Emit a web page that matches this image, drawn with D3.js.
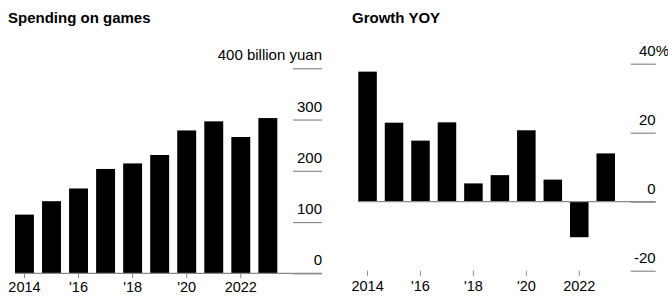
<!DOCTYPE html>
<html>
<head>
<meta charset="utf-8">
<script src="https://cdn.jsdelivr.net/npm/d3@7"></script>
<style>
  html, body { margin: 0; padding: 0; background: #fff; }
  svg { display: block; }
  text { font-family: "Liberation Sans", Arial, Helvetica, sans-serif; fill: #000; }
</style>
</head>
<body>
<svg id="chart" width="668" height="297"></svg>
<script>
// ---- Data ----
const years = [2014, 2015, 2016, 2017, 2018, 2019, 2020, 2021, 2022, 2023];
const spending = [114.5, 140.7, 165.5, 203.6, 214.4, 230.9, 278.7, 296.5, 265.9, 302.9]; // billion yuan
const growth = [37.7, 22.9, 17.7, 23.0, 5.3, 7.7, 20.7, 6.4, -10.3, 14.0]; // % YOY
const xTickYears = [2014, 2016, 2018, 2020, 2022];
const xTickLabels = ["2014", "'16", "'18", "'20", "2022"];
const leftTicks = [0, 100, 200, 300, 400];
const leftTickLabels = ["0", "100", "200", "300", "400 billion yuan"];
const rightTicks = [-20, 0, 20, 40];
const rightTickLabels = ["-20", "0", "20", "40"];
const titles = ["Spending on games", "Growth YOY"];

const svg = d3.select("#chart");
const grid = "#8a8a8a";
const labelMap = (ticks, labels) => v => labels[ticks.indexOf(v)];

// ---- Titles ----
svg.append("text").attr("x", 8).attr("y", 22.5)
  .attr("font-size", 15).attr("font-weight", "bold").text(titles[0]);
svg.append("text").attr("x", 352).attr("y", 22.5)
  .attr("font-size", 15).attr("font-weight", "bold").text(titles[1]);

// ---- Left panel ----
const xL = d3.scaleBand().domain(years).range([15, 277.3]).paddingInner(0.3).paddingOuter(0);
const yL = d3.scaleLinear().domain([0, 400]).range([273.3, 68.3]);

svg.append("g").selectAll("rect").data(years).join("rect")
  .attr("x", d => xL(d))
  .attr("width", xL.bandwidth())
  .attr("y", (d, i) => yL(spending[i]))
  .attr("height", (d, i) => yL(0) - yL(spending[i]))
  .attr("fill", "#000");

const gyL = svg.append("g").attr("transform", "translate(322,0)")
  .call(d3.axisLeft(yL).tickValues(leftTicks).tickSize(29).tickFormat(labelMap(leftTicks, leftTickLabels)));
gyL.select(".domain").remove();
gyL.selectAll(".tick line").attr("stroke", grid).attr("stroke-width", 1.2);
gyL.selectAll(".tick text").attr("x", 0).attr("y", -8.5).attr("dy", 0)
  .attr("text-anchor", "end").attr("font-size", 15).attr("fill", "#000");

svg.append("line").attr("x1", 15).attr("x2", 322).attr("y1", yL(0)).attr("y2", yL(0))
  .attr("stroke", grid).attr("stroke-width", 1.2);

const gxL = svg.append("g").attr("transform", `translate(0,${yL(0)})`)
  .call(d3.axisBottom(xL).tickValues(xTickYears).tickSize(5).tickFormat(labelMap(xTickYears, xTickLabels)));
gxL.select(".domain").remove();
gxL.selectAll(".tick line").attr("stroke", grid);
gxL.selectAll(".tick text").attr("y", 19.2).attr("dy", 0).attr("font-size", 14.5).attr("fill", "#000");

// ---- Right panel ----
const xR = d3.scaleBand().domain(years).range([358.3, 615]).paddingInner(0.3).paddingOuter(0);
const yR = d3.scaleLinear().domain([-20, 40]).range([270.7, 63.7]);

svg.append("g").selectAll("rect").data(years).join("rect")
  .attr("x", d => xR(d))
  .attr("width", xR.bandwidth())
  .attr("y", (d, i) => yR(Math.max(0, growth[i])))
  .attr("height", (d, i) => Math.abs(yR(growth[i]) - yR(0)))
  .attr("fill", "#000");

const gyR = svg.append("g").attr("transform", "translate(655.7,0)")
  .call(d3.axisLeft(yR).tickValues(rightTicks).tickSize(25).tickFormat(labelMap(rightTicks, rightTickLabels)));
gyR.select(".domain").remove();
gyR.selectAll(".tick line").attr("stroke", grid).attr("stroke-width", 1.2);
gyR.selectAll(".tick text").attr("x", 0).attr("y", -8.5).attr("dy", 0)
  .attr("text-anchor", "end").attr("font-size", 15).attr("fill", "#000");
// hanging percent sign on the top tick
gyR.selectAll(".tick").filter(d => d === 40).append("text")
  .attr("x", 0).attr("y", -8.5).attr("text-anchor", "start")
  .attr("font-size", 15).attr("fill", "#000").text("%");

svg.append("line").attr("x1", 358.3).attr("x2", 655.7).attr("y1", yR(0)).attr("y2", yR(0))
  .attr("stroke", grid).attr("stroke-width", 1.2);

const gxR = svg.append("g").attr("transform", `translate(0,${yR(-20)})`)
  .call(d3.axisBottom(xR).tickValues(xTickYears).tickSize(5).tickFormat(labelMap(xTickYears, xTickLabels)));
gxR.select(".domain").remove();
gxR.selectAll(".tick line").attr("stroke", grid);
gxR.selectAll(".tick text").attr("y", 20.3).attr("dy", 0).attr("font-size", 14.5).attr("fill", "#000");
</script>
</body>
</html>
